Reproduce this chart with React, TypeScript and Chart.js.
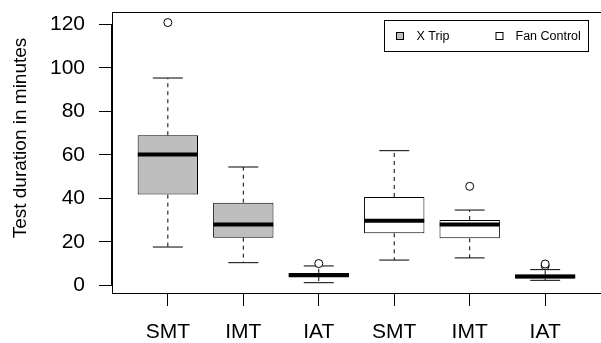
import React, { useEffect, useRef } from "react";
import { Chart, registerables } from "chart.js";

Chart.register(...registerables);

const FONT = "'Liberation Sans', Arial, Helvetica, sans-serif";

const categories = ["SMT", "IMT", "IAT", "SMT", "IMT", "IAT"];
const groups = ["X Trip", "X Trip", "X Trip", "Fan Control", "Fan Control", "Fan Control"];
const legendLabels = ["X Trip", "Fan Control"];
const legendColors = ["#BEBEBE", "#FFFFFF"];

const lowerWhisker = [17.6, 10.4, 1.2, 11.6, 12.6, 2.3];
const q1 = [41.7, 21.9, 3.8, 23.9, 21.6, 3.1];
const median = [60.1, 27.9, 4.6, 29.7, 27.9, 4.0];
const q3 = [69.0, 38.0, 5.7, 40.6, 30.0, 5.0];
const upperWhisker = [95.3, 54.4, 8.9, 61.9, 34.6, 7.2];
const outliers = [[120.8], [], [10.0], [], [45.5], [9.0, 9.8]];

const yTicks = [0, 20, 40, 60, 80, 100, 120];
const yTitle = "Test duration in minutes";
const yMin = -3.54;
const yMax = 125.66;
const xMin = 0.26;
const xMax = 6.74;

const decorPlugin = {
  id: "decor",
  afterDraw(chart: any) {
    const { ctx, chartArea: a } = chart;
    const ys = chart.scales.y;
    ctx.save();
    ctx.strokeStyle = "#000";
    ctx.lineWidth = 1;
    // frame
    ctx.strokeRect(a.left + 0.5, a.top + 0.5, a.right - a.left, a.bottom - a.top);
    // y axis line (0 .. 120)
    ctx.beginPath();
    ctx.moveTo(a.left - 0.5, ys.getPixelForValue(yTicks[0]));
    ctx.lineTo(a.left - 0.5, ys.getPixelForValue(yTicks[yTicks.length - 1]));
    ctx.stroke();

    // y title
    ctx.save();
    ctx.translate(21, 138);
    ctx.rotate(-Math.PI / 2);
    ctx.fillStyle = "#000";
    ctx.font = `19px ${FONT}`;
    ctx.textAlign = "center";
    ctx.textBaseline = "middle";
    ctx.fillText(yTitle, 0, 0);
    ctx.restore();

    // legend
    const lx = 384.5, ly = 20.5, lw = 204, lh = 31;
    ctx.fillStyle = "#fff";
    ctx.fillRect(lx, ly, lw, lh);
    ctx.strokeRect(lx, ly, lw, lh);
    const cy = ly + lh / 2;
    const sqX = [396, 495.5];
    const txX = [416.5, 515.5];
    ctx.font = `12.5px ${FONT}`;
    ctx.textAlign = "left";
    ctx.textBaseline = "middle";
    legendLabels.forEach((lab, i) => {
      ctx.fillStyle = legendColors[i];
      ctx.fillRect(sqX[i] + 0.5, cy - 3.5, 7, 7);
      ctx.strokeRect(sqX[i] + 0.5, cy - 3.5, 7, 7);
      ctx.fillStyle = "#000";
      ctx.fillText(lab, txX[i], cy + 0.5);
    });
    ctx.restore();
  },
};

export default function App() {
  const ref = useRef<HTMLCanvasElement | null>(null);

  useEffect(() => {
    if (!ref.current) return;
    const xs = categories.map((_, i) => i + 1);
    const whiskerData: any[] = [];
    xs.forEach((x, i) => {
      whiskerData.push({ x, y: q3[i] }, { x, y: upperWhisker[i] }, { x, y: null });
      whiskerData.push({ x, y: q1[i] }, { x, y: lowerWhisker[i] }, { x, y: null });
    });
    const capData: any[] = [];
    xs.forEach((x, i) => {
      capData.push({ x, y: upperWhisker[i] }, { x, y: lowerWhisker[i] });
    });
    const outlierData: any[] = [];
    outliers.forEach((arr, i) => arr.forEach((v) => outlierData.push({ x: xs[i], y: v })));

    const zeroPad = (s: any) => {
      s.paddingLeft = 0;
      s.paddingRight = 0;
      s.paddingTop = 0;
      s.paddingBottom = 0;
    };

    const chart = new Chart(ref.current, {
      type: "bar",
      data: {
        datasets: [
          {
            type: "line",
            data: outlierData,
            showLine: false,
            pointStyle: "circle",
            pointRadius: 4,
            pointBackgroundColor: "#fff",
            pointBorderColor: "#000",
            pointBorderWidth: 1,
            order: 0,
          } as any,
          {
            type: "line",
            data: capData,
            showLine: false,
            pointStyle: "line",
            pointRadius: 15,
            pointBorderColor: "#000",
            pointBorderWidth: 1,
            order: 1,
          } as any,
          {
            type: "line",
            data: median.map((m, i) => ({ x: xs[i], y: m })),
            showLine: false,
            pointStyle: "line",
            pointRadius: 30,
            pointBorderColor: "#000",
            pointBorderWidth: 4,
            order: 2,
          } as any,
          {
            type: "bar",
            data: xs.map((x, i) => ({ x, y: [q1[i], q3[i]] })),
            backgroundColor: groups.map((g) => legendColors[legendLabels.indexOf(g)]),
            borderColor: "#000",
            borderWidth: 1,
            borderSkipped: false,
            barPercentage: 1,
            categoryPercentage: 0.8,
            order: 3,
          } as any,
          {
            type: "line",
            data: whiskerData,
            spanGaps: false,
            borderColor: "#000",
            borderWidth: 1,
            borderDash: [4, 4],
            pointRadius: 0,
            fill: false,
            order: 4,
          } as any,
        ],
      },
      options: {
        animation: false,
        responsive: false,
        devicePixelRatio: 1,
        layout: { autoPadding: false, padding: { left: 0, right: 0, top: 12, bottom: 0 } },
        plugins: { legend: { display: false }, tooltip: { enabled: false } },
        events: [],
        scales: {
          x: {
            type: "linear",
            min: xMin,
            max: xMax,
            offset: false,
            afterBuildTicks: (s: any) => {
              s.ticks = xs.map((v) => ({ value: v }));
            },
            afterFit: (s: any) => {
              s.height = 50;
              zeroPad(s);
            },
            ticks: {
              callback: (v: any) => categories[Math.round(Number(v)) - 1] ?? "",
              font: { size: 21, family: FONT },
              color: "#000",
              padding: 14,
              maxRotation: 0,
              autoSkip: false,
            },
            grid: { drawOnChartArea: false, drawTicks: true, tickLength: 13, color: "#000", offset: false },
            border: { display: false },
          },
          y: {
            type: "linear",
            min: yMin,
            max: yMax,
            afterBuildTicks: (s: any) => {
              s.ticks = yTicks.map((v) => ({ value: v }));
            },
            afterFit: (s: any) => {
              s.width = 112;
              zeroPad(s);
            },
            ticks: {
              font: { size: 21, family: FONT },
              color: "#000",
              padding: 14,
            },
            grid: { drawOnChartArea: false, drawTicks: true, tickLength: 13, color: "#000" },
            border: { display: false },
          },
        },
      } as any,
      plugins: [decorPlugin],
    });
    return () => chart.destroy();
  }, []);

  return (
    <div style={{ position: "absolute", left: 0, top: 0, width: 601, height: 343, background: "#fff" }}>
      <canvas ref={ref} width={601} height={343} style={{ display: "block" }} />
    </div>
  );
}
